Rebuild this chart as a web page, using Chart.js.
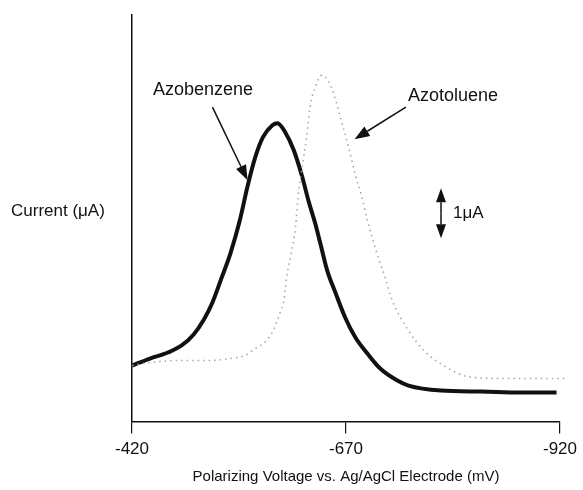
<!DOCTYPE html>
<html>
<head>
  <title>Azobenzene / Azotoluene polarogram</title>
  <script src="https://cdn.jsdelivr.net/npm/chart.js"></script>
  <style>
    body {
      margin: 0;
      background-color: #FFFFFF;
    }
  </style>
</head>
<body>
  <canvas id="polaroChart" width="583" height="490"></canvas>

  <script>
    // Polarizing voltage (mV) and current (uA)
    const azobenzeneV = [-420, -441, -462, -478, -492, -504, -514, -524, -535, -546, -555, -564, -573, -584, -590,
      -599, -609, -619, -626, -634, -640, -648, -658, -669, -681, -695, -710, -730, -743, -781, -828, -874, -916];
    const azobenzeneI = [1.12, 1.26, 1.38, 1.52, 1.74, 2.04, 2.38, 2.84, 3.36, 4.02, 4.70, 5.28, 5.68, 5.92, 5.96,
      5.78, 5.42, 4.88, 4.42, 3.96, 3.56, 3.02, 2.56, 2.08, 1.68, 1.36, 1.06, 0.82, 0.72, 0.62, 0.60, 0.58, 0.58];

    const azotolueneV = [-420, -441, -476, -511, -535, -552, -564, -576, -585, -593, -597, -601, -606, -611, -614,
      -620, -624, -628, -635, -642, -650, -655, -666, -673, -681, -688, -695, -705, -716, -724, -743, -761,
      -784, -812, -851, -890, -925];
    const azotolueneI = [1.12, 1.18, 1.22, 1.22, 1.26, 1.32, 1.46, 1.60, 1.82, 2.18, 2.38, 2.92, 3.36, 3.88, 4.48,
      5.22, 5.68, 6.28, 6.72, 6.92, 6.78, 6.58, 5.92, 5.48, 4.92, 4.52, 4.02, 3.42, 2.86, 2.42, 1.82, 1.42,
      1.12, 0.90, 0.86, 0.86, 0.86];

    const xTicks = [-420, -670, -920];

    const FONT = '"Liberation Sans", Arial, sans-serif';

    // annotation anchors, in data units (mV, uA)
    const labelAzobenzene = { x: -503, y: 6.62 };
    const arrowAzobenzene = { from: [-514, 6.28], to: [-555, 4.82] };
    const labelAzotoluene = { x: -795, y: 6.5 };
    const arrowAzotoluene = { from: [-740, 6.28], to: [-680, 5.64] };
    const scaleBar = { x: -781, top: 4.66, bottom: 3.66 };

    const toPoints = (xs, ys) => xs.map((x, i) => ({ x: x, y: ys[i] }));

    const drawArrow = (ctx, x1, y1, x2, y2, headLen, headW) => {
      const ang = Math.atan2(y2 - y1, x2 - x1);
      const bx = x2 - headLen * Math.cos(ang);
      const by = y2 - headLen * Math.sin(ang);
      ctx.beginPath();
      ctx.moveTo(x1, y1);
      ctx.lineTo(bx, by);
      ctx.stroke();
      ctx.beginPath();
      ctx.moveTo(x2, y2);
      ctx.lineTo(bx + headW / 2 * Math.sin(ang), by - headW / 2 * Math.cos(ang));
      ctx.lineTo(bx - headW / 2 * Math.sin(ang), by + headW / 2 * Math.cos(ang));
      ctx.closePath();
      ctx.fill();
    };

    const annotations = {
      id: 'annotations',
      afterDatasetsDraw(chart) {
        const ctx = chart.ctx;
        const xs = chart.scales.x;
        const ys = chart.scales.y;
        ctx.save();
        ctx.fillStyle = '#111';
        ctx.strokeStyle = '#111';
        ctx.lineWidth = 1.5;

        // curve labels
        ctx.font = '18px ' + FONT;
        ctx.textAlign = 'center';
        ctx.textBaseline = 'middle';
        ctx.fillText('Azobenzene', xs.getPixelForValue(labelAzobenzene.x), ys.getPixelForValue(labelAzobenzene.y));
        ctx.fillText('Azotoluene', xs.getPixelForValue(labelAzotoluene.x), ys.getPixelForValue(labelAzotoluene.y));

        drawArrow(ctx,
          xs.getPixelForValue(arrowAzobenzene.from[0]), ys.getPixelForValue(arrowAzobenzene.from[1]),
          xs.getPixelForValue(arrowAzobenzene.to[0]), ys.getPixelForValue(arrowAzobenzene.to[1]), 15, 11);
        drawArrow(ctx,
          xs.getPixelForValue(arrowAzotoluene.from[0]), ys.getPixelForValue(arrowAzotoluene.from[1]),
          xs.getPixelForValue(arrowAzotoluene.to[0]), ys.getPixelForValue(arrowAzotoluene.to[1]), 15, 11);

        // 1 uA scale bar (double arrow)
        const bx = xs.getPixelForValue(scaleBar.x);
        const top = ys.getPixelForValue(scaleBar.top);
        const bot = ys.getPixelForValue(scaleBar.bottom);
        const mid = (top + bot) / 2;
        drawArrow(ctx, bx, mid, bx, top, 14, 10);
        drawArrow(ctx, bx, mid, bx, bot, 14, 10);
        ctx.font = '17px ' + FONT;
        ctx.textAlign = 'left';
        ctx.fillText('1\u03BCA', bx + 12, mid);

        // y axis caption, horizontal, left of the axis
        ctx.fillText('Current (\u03BCA)', 11, ys.getPixelForValue(4.2));
        ctx.restore();
      }
    };

    new Chart(document.getElementById('polaroChart').getContext('2d'), {
      type: 'line',
      data: {
        datasets: [
          {
            label: 'Azotoluene',
            data: toPoints(azotolueneV, azotolueneI),
            borderColor: '#a8a8a8',
            borderWidth: 1.6,
            borderDash: [1.5, 4],
            pointRadius: 0,
            cubicInterpolationMode: 'monotone',
            clip: false,
            fill: false,
          },
          {
            label: 'Azobenzene',
            data: toPoints(azobenzeneV, azobenzeneI),
            borderColor: '#111111',
            borderWidth: 4,
            pointRadius: 0,
            cubicInterpolationMode: 'monotone',
            fill: false,
          },
        ],
      },
      options: {
        responsive: false,
        animation: false,
        layout: {
          padding: { left: 124, right: 21, top: 15, bottom: 0 },
        },
        plugins: {
          legend: { display: false },
          tooltip: { enabled: false },
        },
        scales: {
          x: {
            type: 'linear',
            reverse: true,
            min: -920,
            max: -420,
            afterBuildTicks: (axis) => {
              axis.ticks = xTicks.map((v) => ({ value: v }));
            },
            grid: {
              display: true,
              drawOnChartArea: false,
              drawTicks: true,
              tickLength: 12,
              color: '#111',
              lineWidth: 1.2,
            },
            border: { display: true, color: '#111', width: 1.5 },
            ticks: {
              color: '#111',
              padding: 6,
              maxRotation: 0,
              font: { family: FONT, size: 17 },
            },
            title: {
              display: true,
              text: 'Polarizing Voltage vs. Ag/AgCl Electrode (mV)',
              color: '#111',
              padding: { top: 2, bottom: 4 },
              font: { family: FONT, size: 15 },
            },
          },
          y: {
            min: 0,
            max: 8.12,
            ticks: { display: false },
            grid: { display: false },
            border: { display: true, color: '#111', width: 1.5 },
          },
        },
      },
      plugins: [annotations],
    });
  </script>
</body>
</html>
